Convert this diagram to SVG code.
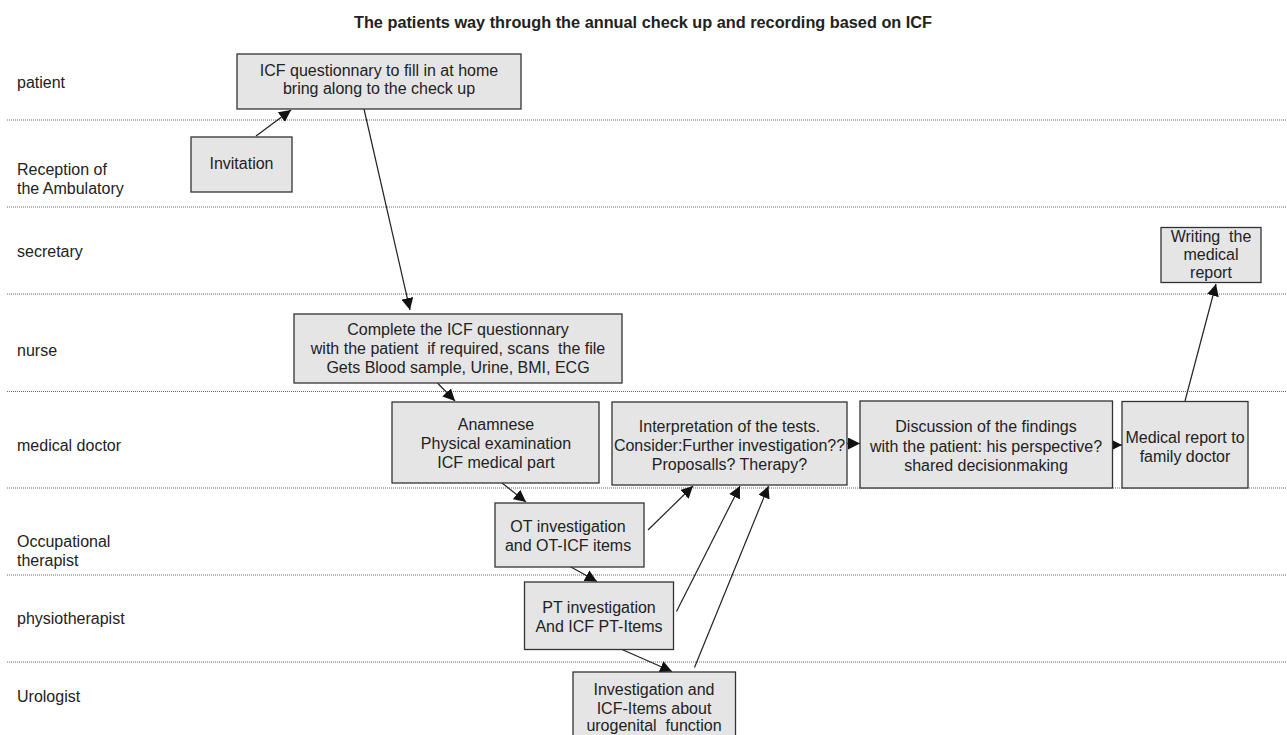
<svg xmlns="http://www.w3.org/2000/svg" width="1287" height="735" viewBox="0 0 1287 735">
<defs>
<style>
.lane{stroke:#666;stroke-width:1;stroke-dasharray:1 1;fill:none}
.lbl{font-family:"Liberation Sans",Arial,sans-serif;font-size:16px;fill:#222}
.box{fill:#e5e5e6;stroke:#333;stroke-width:1.3}
.t{font-family:"Liberation Sans",Arial,sans-serif;font-size:16px;fill:#222;text-anchor:middle}
.c{stroke:#222;stroke-width:1.2;fill:none;marker-end:url(#ah)}
</style>
<marker id="ah" viewBox="0 0 10 10" refX="10" refY="5" markerWidth="12" markerHeight="12" markerUnits="userSpaceOnUse" orient="auto">
<path d="M0,0 L10,5 L0,10 Z" fill="#111"/>
</marker>
</defs>
<rect width="1287" height="735" fill="#fff"/>
<text x="643" y="28" font-family="Liberation Sans,Arial,sans-serif" font-size="16.3" font-weight="bold" fill="#222" text-anchor="middle">The patients way through the annual check up and recording based on ICF</text>
<g id="lanes">
<line class="lane" x1="7" y1="120" x2="1287" y2="120"/>
<line class="lane" x1="7" y1="207" x2="1287" y2="207"/>
<line class="lane" x1="7" y1="294" x2="1287" y2="294"/>
<line class="lane" x1="7" y1="391.5" x2="1287" y2="391.5"/>
<line class="lane" x1="7" y1="488" x2="1287" y2="488"/>
<line class="lane" x1="7" y1="575" x2="1287" y2="575"/>
<line class="lane" x1="7" y1="662" x2="1287" y2="662"/>
<text class="lbl" x="17" y="88">patient</text>
<text class="lbl" x="17" y="175">Reception of</text>
<text class="lbl" x="17" y="194">the Ambulatory</text>
<text class="lbl" x="17" y="257">secretary</text>
<text class="lbl" x="17" y="356">nurse</text>
<text class="lbl" x="17" y="451">medical doctor</text>
<text class="lbl" x="17" y="547">Occupational</text>
<text class="lbl" x="17" y="566">therapist</text>
<text class="lbl" x="17" y="624">physiotherapist</text>
<text class="lbl" x="17" y="702">Urologist</text>
</g>
<g id="connectors">
<line class="c" x1="256" y1="136" x2="291" y2="110"/>
<line class="c" x1="364" y1="109" x2="410" y2="310"/>
<line class="c" x1="437.5" y1="383" x2="455" y2="401"/>
<line class="c" x1="502" y1="483" x2="526" y2="502"/>
<line class="c" x1="648" y1="530" x2="693" y2="486"/>
<line class="c" x1="570" y1="566.5" x2="597" y2="581.5"/>
<line class="c" x1="676.5" y1="611.5" x2="740" y2="486"/>
<line class="c" x1="622" y1="649.5" x2="672" y2="671.5"/>
<line class="c" x1="694.5" y1="667.5" x2="768.5" y2="486"/>
<line class="c" x1="847" y1="443.5" x2="860" y2="443.5"/>
<line class="c" x1="1112.5" y1="445" x2="1122" y2="445"/>
<line class="c" x1="1185" y1="401" x2="1216" y2="284"/>
</g>
<g id="n-icf">
<rect class="box" x="237" y="54" width="284" height="55"/>
<text class="t" x="379" y="76">ICF questionnary to fill in at home</text>
<text class="t" x="379" y="94">bring along to the check up</text>
</g>
<g id="n-invitation">
<rect class="box" x="191" y="137" width="101" height="55"/>
<text class="t" x="241.5" y="169">Invitation</text>
</g>
<g id="n-writing">
<rect class="box" x="1161" y="227.5" width="100" height="55"/>
<text class="t" x="1211" y="242" xml:space="preserve">Writing  the</text>
<text class="t" x="1211" y="260">medical</text>
<text class="t" x="1211" y="278">report</text>
</g>
<g id="n-nurse">
<rect class="box" x="294" y="314" width="328" height="69"/>
<text class="t" x="458" y="335">Complete the ICF questionnary</text>
<text class="t" x="458" y="354" xml:space="preserve">with the patient  if required, scans  the file</text>
<text class="t" x="458" y="373">Gets Blood sample, Urine, BMI, ECG</text>
</g>
<g id="n-anamnese">
<rect class="box" x="392" y="402" width="207" height="81"/>
<text class="t" x="496" y="430">Anamnese</text>
<text class="t" x="496" y="449">Physical examination</text>
<text class="t" x="496" y="468">ICF medical part</text>
</g>
<g id="n-interp">
<rect class="box" x="612" y="402" width="235" height="83"/>
<text class="t" x="729.5" y="431.5">Interpretation of the tests.</text>
<text class="t" x="729.5" y="451">Consider:Further investigation??</text>
<text class="t" x="729.5" y="469.5">Proposalls? Therapy?</text>
</g>
<g id="n-discussion">
<rect class="box" x="860" y="401" width="252.5" height="87"/>
<text class="t" x="986" y="432">Discussion of the findings</text>
<text class="t" x="986" y="452">with the patient: his perspective?</text>
<text class="t" x="986" y="471">shared decisionmaking</text>
</g>
<g id="n-report">
<rect class="box" x="1122" y="401.5" width="126" height="86.5"/>
<text class="t" x="1185" y="443">Medical report to</text>
<text class="t" x="1185" y="462">family doctor</text>
</g>
<g id="n-ot">
<rect class="box" x="495" y="503" width="149" height="64"/>
<text class="t" x="568" y="531.5">OT investigation</text>
<text class="t" x="568" y="551">and OT-ICF items</text>
</g>
<g id="n-pt">
<rect class="box" x="524.5" y="582" width="149" height="67.5"/>
<text class="t" x="599" y="613">PT investigation</text>
<text class="t" x="599" y="632">And ICF PT-Items</text>
</g>
<g id="n-uro">
<rect class="box" x="573" y="672" width="162.5" height="70"/>
<text class="t" x="654" y="695">Investigation and</text>
<text class="t" x="654" y="713.5">ICF-Items about</text>
<text class="t" x="654" y="731" xml:space="preserve">urogenital  function</text>
</g>
</svg>
